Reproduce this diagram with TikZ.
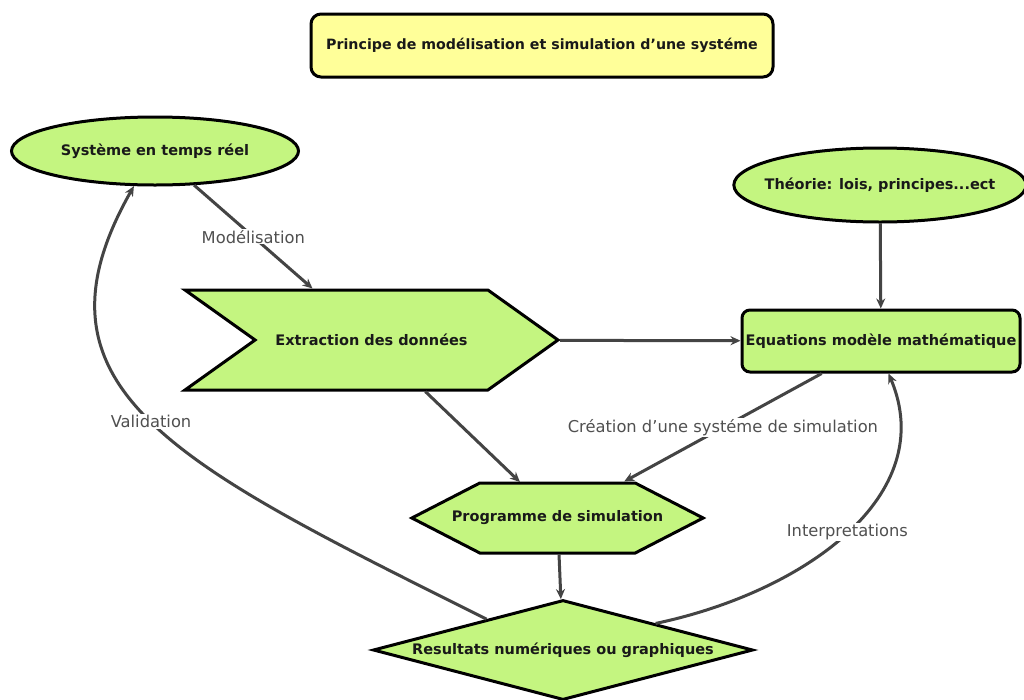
\documentclass[tikz,border=0pt]{standalone}
\usepackage{fontspec}
\setmainfont{DejaVu Sans}
\usetikzlibrary{arrows.meta, shapes.geometric, shapes.symbols}
\definecolor{mgreen}{RGB}{196,245,128}
\definecolor{myellow}{RGB}{255,255,153}
\definecolor{mgray}{RGB}{68,68,68}
\definecolor{mtext}{RGB}{80,80,80}

\begin{document}
\begin{tikzpicture}[x=1pt, y=-1pt,
    box/.style={draw, line width=3pt, fill=mgreen, inner sep=0pt, text=black!90,
                font=\fontsize{14.5}{17}\selectfont\bfseries},
    titlebox/.style={box, fill=myellow, rounded corners=10pt, minimum width=462pt, minimum height=63pt,
                     font=\fontsize{14.2}{17}\selectfont\bfseries},
    ellbox/.style={box, ellipse, minimum width=287pt, minimum height=68pt},
    chevronbox/.style={box, signal, signal from=west, signal to=east, signal pointer angle=71,
                       minimum width=373pt, minimum height=100pt},
    eqbox/.style={box, rounded corners=8pt, minimum width=278pt, minimum height=62pt},
    hexbox/.style={box, signal, signal to=east and west, signal pointer angle=54.5,
                   inner xsep=-28pt, minimum height=70pt},
    resbox/.style={box, diamond, aspect=3.8, minimum width=380pt, minimum height=100pt},
    arrow/.style={-{Stealth[length=10pt, width=9pt]}, line width=3pt, draw=mgray},
    lbl/.style={fill=white, text=mtext, inner sep=1pt, font=\fontsize{16.3}{19}\selectfont},
]
\fill[white] (0,0) rectangle (1024,699);
\useasboundingbox (0,0) rectangle (1024,699);

\node[titlebox] (titre) at (542,45.5) {Principe de modélisation et simulation d'une systéme};
\node[ellbox] (sys) at (155,151) {Système en temps réel};
\node[ellbox, minimum width=290pt, minimum height=74pt, inner xsep=-12pt] (theo) at (880,185) {Théorie: lois, principes...ect};
\node[chevronbox] (extr) at (371.5,340) {Extraction des données};
\node[eqbox] (eq) at (881,341) {Equations modèle mathématique};
\node[hexbox] (prog) at (557.5,518) {Programme de simulation};
\node[resbox] (res) at (563,650) {Resultats numériques ou graphiques};

\draw[arrow] (sys) -- node[lbl] {Modélisation} (extr);
\draw[arrow] (extr) -- (eq);
\draw[arrow] (theo) -- (eq);
\draw[arrow] (extr) -- (prog);
\draw[arrow] (eq) -- node[lbl] {Création d'une systéme de simulation} (prog);
\draw[arrow] (prog) -- (res);
\draw[arrow] (res.158) .. controls (178,465) and (18,390) .. node[lbl] {Validation} (sys.-121);
\draw[arrow] (res.16) .. controls (805,592) and (940,495) .. node[lbl] {Interpretations} (eq.-77);

\end{tikzpicture}
\end{document}
